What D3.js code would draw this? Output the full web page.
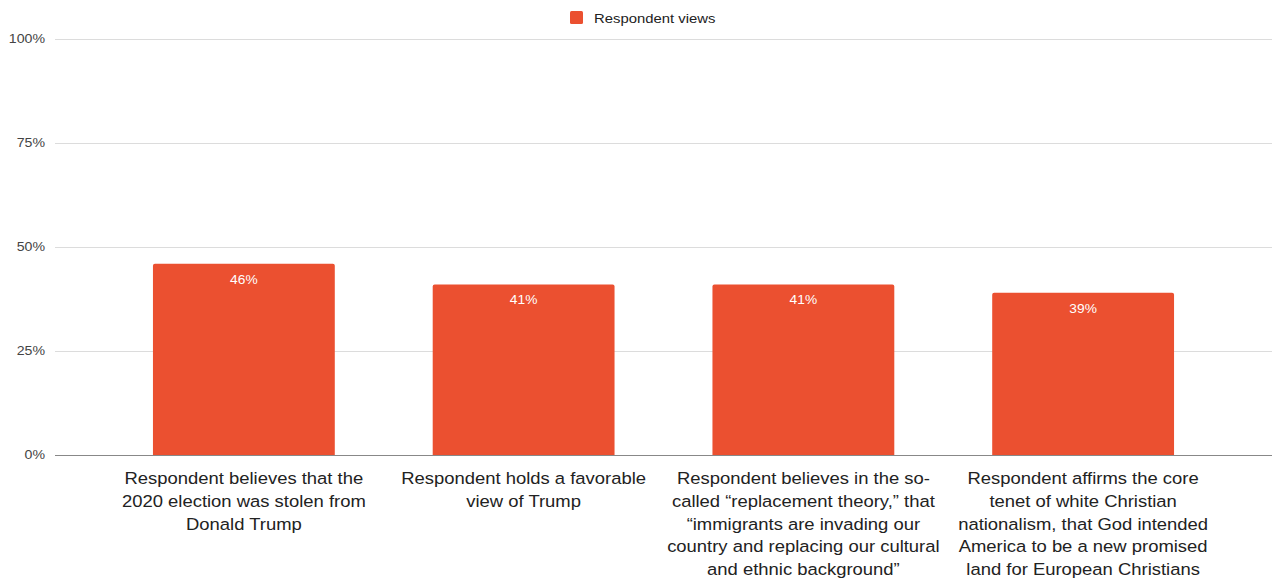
<!DOCTYPE html>
<html>
<head>
<meta charset="utf-8">
<script src="https://cdn.jsdelivr.net/npm/d3@7"></script>
<style>
  html, body { margin: 0; padding: 0; background: #fff; }
  svg { display: block; font-family: "Liberation Sans", Arial, sans-serif; }
</style>
</head>
<body>
<svg id="chart" width="1274" height="581"></svg>
<script>
// Share of respondents holding each view; each category is stored as its label lines
const categories = [
  ["Respondent believes that the", "2020 election was stolen from", "Donald Trump"],
  ["Respondent holds a favorable", "view of Trump"],
  ["Respondent believes in the so-", "called \u201creplacement theory,\u201d that", "\u201cimmigrants are invading our", "country and replacing our cultural", "and ethnic background\u201d"],
  ["Respondent affirms the core", "tenet of white Christian", "nationalism, that God intended", "America to be a new promised", "land for European Christians"]
];
const values = [0.46, 0.41, 0.41, 0.39];
const seriesName = "Respondent views";
const yTicks = [0, 0.25, 0.5, 0.75, 1];

const svg = d3.select("#chart");
const color = "#eb5030";
const catKeys = categories.map(c => c.join(" "));

const plot = { left: 55, right: 1272, top: 39, bottom: 455 };

const x = d3.scaleBand()
  .domain(catKeys)
  .range([104, 1223])
  .paddingInner(0.35)
  .paddingOuter(0.175);

const y = d3.scaleLinear().domain([0, 1]).range([plot.bottom, plot.top]);

// Gridlines and y tick labels
const tickStretch = 1.18;
const yAxis = d3.axisLeft(y)
  .tickValues(yTicks)
  .tickFormat(d3.format(".0%"))
  .tickSize(-(plot.right - plot.left))
  .tickPadding(10);

const gy = svg.append("g")
  .attr("transform", `translate(${plot.left},0)`)
  .call(yAxis);
gy.select(".domain").remove();
gy.selectAll(".tick line")
  .attr("stroke", d => d === 0 ? "#888" : "#dcdcdc")
  .attr("stroke-width", 1);
gy.selectAll(".tick text")
  .attr("fill", "#444")
  .attr("font-size", 12)
  .attr("font-family", "'Liberation Sans', Arial, sans-serif")
  .attr("x", -10 / tickStretch)
  .attr("transform", `scale(${tickStretch},1)`);

// Bars with slightly rounded top corners
svg.append("g").selectAll("path")
  .data(values)
  .join("path")
  .attr("fill", color)
  .attr("d", (v, i) => {
    const x0 = x(catKeys[i]), w = x.bandwidth();
    const y0 = y(v), y1 = y(0), r = 2;
    return `M${x0},${y1}V${y0 + r}Q${x0},${y0} ${x0 + r},${y0}H${x0 + w - r}Q${x0 + w},${y0} ${x0 + w},${y0 + r}V${y1}Z`;
  });

// Baseline drawn over the bars
svg.append("line")
  .attr("x1", plot.left).attr("x2", plot.right)
  .attr("y1", y(0) + 0.5).attr("y2", y(0) + 0.5)
  .attr("stroke", "#888");

// Value labels inside the bars
svg.append("g").selectAll("text")
  .data(values)
  .join("text")
  .attr("transform", (v, i) => `translate(${x(catKeys[i]) + x.bandwidth() / 2},${y(v) + 20}) scale(1.1,1)`)
  .attr("text-anchor", "middle")
  .attr("fill", "#fff")
  .attr("font-size", 12.5)
  .text(v => d3.format(".0%")(v));

// Category labels beneath each bar
const labels = svg.append("g").selectAll("text")
  .data(categories)
  .join("text")
  .attr("text-anchor", "middle")
  .attr("fill", "#222")
  .attr("font-size", 17)
  .attr("transform", (d, i) => `translate(${x(catKeys[i]) + x.bandwidth() / 2},${plot.bottom + 29}) scale(1.085,1)`);
labels.each(function (d) {
  d3.select(this).selectAll("tspan")
    .data(d)
    .join("tspan")
    .attr("x", 0)
    .attr("y", (l, i) => i * 22.8)
    .text(l => l);
});

// Legend
const legend = svg.append("g").attr("transform", "translate(570,11)");
legend.append("rect")
  .attr("width", 13).attr("height", 13).attr("rx", 1.5)
  .attr("fill", color);
legend.append("text")
  .attr("transform", "translate(24,12) scale(1.19,1)")
  .attr("font-size", 12.5)
  .attr("fill", "#222")
  .text(seriesName);
</script>
</body>
</html>
